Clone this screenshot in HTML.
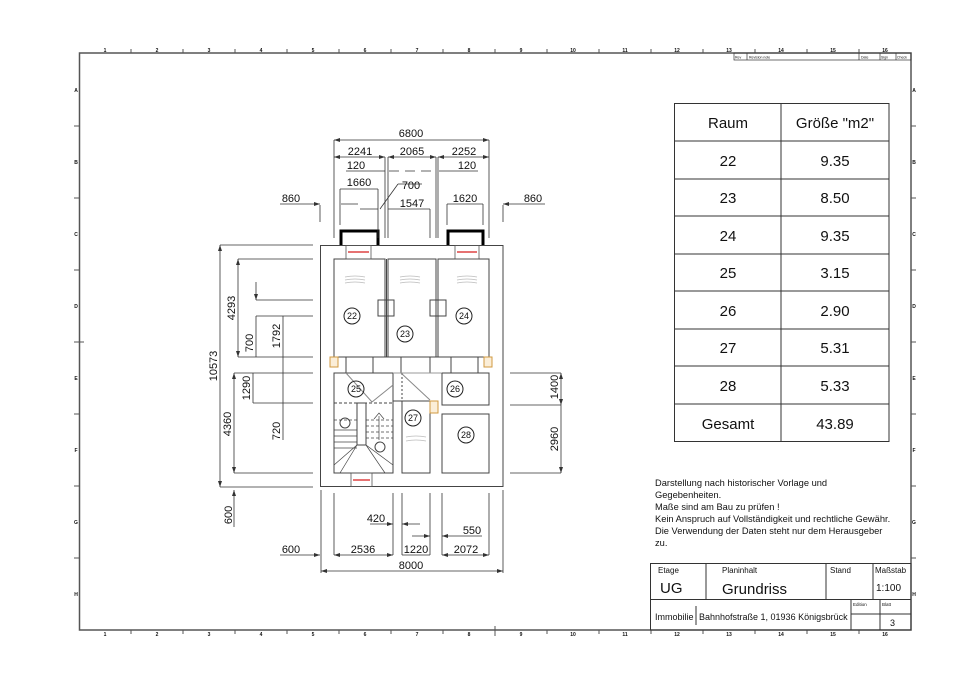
<!DOCTYPE html>
<html><head><meta charset="utf-8"><style>
html,body{margin:0;padding:0;background:#fff;width:960px;height:679px;overflow:hidden}
svg{display:block}
text{font-family:"Liberation Sans",sans-serif;fill:#111}
.d{font-size:11px}
.t{font-size:15px}
.s{font-family:"DejaVu Sans Condensed","DejaVu Sans",sans-serif}
</style></head><body>
<svg width="960" height="679" viewBox="0 0 960 679" xmlns="http://www.w3.org/2000/svg">
<!-- frame -->
<rect x="79.5" y="53" width="831.5" height="577" fill="none" stroke="#555" stroke-width="1.5"/>
<g stroke="#555" stroke-width="1">
<line x1="131" y1="49" x2="131" y2="53"/><line x1="183" y1="49" x2="183" y2="53"/><line x1="235" y1="49" x2="235" y2="53"/><line x1="287" y1="49" x2="287" y2="53"/><line x1="339" y1="49" x2="339" y2="53"/><line x1="391" y1="49" x2="391" y2="53"/><line x1="443" y1="49" x2="443" y2="53"/><line x1="495" y1="49" x2="495" y2="53"/><line x1="547" y1="49" x2="547" y2="53"/><line x1="599" y1="49" x2="599" y2="53"/><line x1="651" y1="49" x2="651" y2="53"/><line x1="703" y1="49" x2="703" y2="53"/><line x1="755" y1="49" x2="755" y2="53"/><line x1="807" y1="49" x2="807" y2="53"/><line x1="859" y1="49" x2="859" y2="53"/>
<line x1="131" y1="630" x2="131" y2="634"/><line x1="183" y1="630" x2="183" y2="634"/><line x1="235" y1="630" x2="235" y2="634"/><line x1="287" y1="630" x2="287" y2="634"/><line x1="339" y1="630" x2="339" y2="634"/><line x1="391" y1="630" x2="391" y2="634"/><line x1="443" y1="630" x2="443" y2="634"/><line x1="495" y1="626" x2="495" y2="636"/><line x1="547" y1="630" x2="547" y2="634"/><line x1="599" y1="630" x2="599" y2="634"/><line x1="651" y1="630" x2="651" y2="634"/><line x1="703" y1="630" x2="703" y2="634"/><line x1="755" y1="630" x2="755" y2="634"/><line x1="807" y1="630" x2="807" y2="634"/><line x1="859" y1="630" x2="859" y2="634"/>
<line x1="74" y1="126" x2="79" y2="126"/><line x1="74" y1="198" x2="79" y2="198"/><line x1="74" y1="270" x2="79" y2="270"/><line x1="74" y1="342" x2="84" y2="342"/><line x1="74" y1="414" x2="79" y2="414"/><line x1="74" y1="486" x2="79" y2="486"/><line x1="74" y1="558" x2="79" y2="558"/>
<line x1="911" y1="126" x2="916" y2="126"/><line x1="911" y1="198" x2="916" y2="198"/><line x1="911" y1="270" x2="916" y2="270"/><line x1="911" y1="342" x2="916" y2="342"/><line x1="911" y1="414" x2="916" y2="414"/><line x1="911" y1="486" x2="916" y2="486"/><line x1="911" y1="558" x2="916" y2="558"/>
</g>
<g font-size="5" text-anchor="middle" font-weight="bold">
<text x="105" y="52">1</text><text x="157" y="52">2</text><text x="209" y="52">3</text><text x="261" y="52">4</text><text x="313" y="52">5</text><text x="365" y="52">6</text><text x="417" y="52">7</text><text x="469" y="52">8</text><text x="521" y="52">9</text><text x="573" y="52">10</text><text x="625" y="52">11</text><text x="677" y="52">12</text><text x="729" y="52">13</text><text x="781" y="52">14</text><text x="833" y="52">15</text><text x="885" y="52">16</text>
<text x="105" y="636">1</text><text x="157" y="636">2</text><text x="209" y="636">3</text><text x="261" y="636">4</text><text x="313" y="636">5</text><text x="365" y="636">6</text><text x="417" y="636">7</text><text x="469" y="636">8</text><text x="521" y="636">9</text><text x="573" y="636">10</text><text x="625" y="636">11</text><text x="677" y="636">12</text><text x="729" y="636">13</text><text x="781" y="636">14</text><text x="833" y="636">15</text><text x="885" y="636">16</text>
<text x="76" y="92">A</text><text x="76" y="164">B</text><text x="76" y="236">C</text><text x="76" y="308">D</text><text x="76" y="380">E</text><text x="76" y="452">F</text><text x="76" y="524">G</text><text x="76" y="596">H</text>
<text x="914" y="92">A</text><text x="914" y="164">B</text><text x="914" y="236">C</text><text x="914" y="308">D</text><text x="914" y="380">E</text><text x="914" y="452">F</text><text x="914" y="524">G</text><text x="914" y="596">H</text>
</g>
<!-- top right strip -->
<g fill="none" stroke="#333" stroke-width="0.7"><rect x="734" y="53" width="177" height="7"/><line x1="747" y1="53" x2="747" y2="60"/><line x1="859" y1="53" x2="859" y2="60"/><line x1="880" y1="53" x2="880" y2="60"/><line x1="896" y1="53" x2="896" y2="60"/></g>
<g font-size="3.5"><text x="735" y="58.5">Rev</text><text x="749" y="58.5">Revision note</text><text x="861" y="58.5">Date</text><text x="881" y="58.5">Sign</text><text x="897" y="58.5">Check</text></g>

<!-- table -->
<g fill="none" stroke="#333" stroke-width="1">
<rect x="674.5" y="103.5" width="214.5" height="338"/>
<line x1="781" y1="103.5" x2="781" y2="441.5"/>
<line x1="674.5" y1="141" x2="889" y2="141"/><line x1="674.5" y1="179" x2="889" y2="179"/><line x1="674.5" y1="216" x2="889" y2="216"/><line x1="674.5" y1="254" x2="889" y2="254"/><line x1="674.5" y1="291" x2="889" y2="291"/><line x1="674.5" y1="329" x2="889" y2="329"/><line x1="674.5" y1="366" x2="889" y2="366"/><line x1="674.5" y1="404" x2="889" y2="404"/>
</g>
<g class="t" text-anchor="middle">
<text x="728" y="128">Raum</text><text x="835" y="128">Größe  "m2"</text>
<text x="728" y="166">22</text><text x="835" y="166">9.35</text>
<text x="728" y="203">23</text><text x="835" y="203">8.50</text>
<text x="728" y="241">24</text><text x="835" y="241">9.35</text>
<text x="728" y="278">25</text><text x="835" y="278">3.15</text>
<text x="728" y="316">26</text><text x="835" y="316">2.90</text>
<text x="728" y="353">27</text><text x="835" y="353">5.31</text>
<text x="728" y="391">28</text><text x="835" y="391">5.33</text>
<text x="728" y="429">Gesamt</text><text x="835" y="429">43.89</text>
</g>
<!-- note -->
<g font-size="9.3">
<text x="655" y="486">Darstellung nach historischer Vorlage und</text>
<text x="655" y="498">Gegebenheiten.</text>
<text x="655" y="510">Maße sind am Bau zu prüfen !</text>
<text x="655" y="522">Kein Anspruch auf Vollständigkeit und rechtliche Gewähr.</text>
<text x="655" y="534">Die Verwendung der Daten steht nur dem Herausgeber</text>
<text x="655" y="546">zu.</text>
</g>
<!-- title block -->
<g fill="none" stroke="#333" stroke-width="1">
<rect x="650.5" y="563.5" width="260.5" height="66.5"/>
<line x1="650.5" y1="599.5" x2="911" y2="599.5"/>
<line x1="706" y1="563.5" x2="706" y2="599.5"/><line x1="826" y1="563.5" x2="826" y2="599.5"/><line x1="873" y1="563.5" x2="873" y2="599.5"/>
<line x1="851" y1="599.5" x2="851" y2="630"/><line x1="880" y1="599.5" x2="880" y2="630"/><line x1="851" y1="614" x2="911" y2="614"/>
<line x1="696" y1="606" x2="696" y2="625"/>
</g>
<g class="s">
<text x="658" y="573" font-size="8">Etage</text>
<text x="660" y="593" font-size="15" font-weight="300">UG</text>
<text x="722" y="573" font-size="8">Planinhalt</text>
<text x="722" y="594" font-size="15">Grundriss</text>
<text x="830" y="573" font-size="8">Stand</text>
<text x="875" y="573" font-size="8">Maßstab</text>
<text x="876" y="591" font-size="10">1:100</text>
<text x="853" y="606" font-size="4.5">Edition</text>
<text x="882" y="606" font-size="4.5">Blatt</text>
<text x="890" y="626" font-size="9">3</text>
<text x="655" y="620" font-size="9">Immobilie</text>
<text x="699" y="620" font-size="9">Bahnhofstraße 1, 01936 Königsbrück</text>
</g>

<!-- FLOOR PLAN -->
<g fill="none" stroke="#444" stroke-width="1">
<rect x="320.5" y="245.5" width="182.5" height="241"/>
<!-- upper rooms -->
<rect x="334" y="259" width="51" height="98"/>
<rect x="388" y="259" width="48" height="98"/>
<rect x="438" y="259" width="51" height="98"/>
<line x1="386.5" y1="259" x2="386.5" y2="357"/>
<!-- hallway blocks -->
<polyline points="334,357 346,357 346,373"/>
<rect x="373" y="357" width="28" height="16"/>
<rect x="430" y="357" width="21" height="16"/>
<polyline points="489,357 478,357 478,373"/>
<line x1="451" y1="357" x2="478" y2="357" stroke-dasharray="2,2"/>
<!-- lower rooms -->
<rect x="334" y="373" width="59" height="100"/>
<rect x="402" y="401" width="28" height="72"/>
<rect x="442" y="373" width="47" height="32"/>
<rect x="442" y="414" width="47" height="59"/>
<line x1="442" y1="405" x2="489" y2="405"/>
<line x1="393" y1="373" x2="442" y2="373" stroke="#999"/>
<line x1="393" y1="401" x2="402" y2="401"/>
<line x1="402" y1="373" x2="402" y2="401" stroke-dasharray="2,2"/>
<line x1="442" y1="373" x2="442" y2="405" stroke-dasharray="2,2"/>
<line x1="346" y1="373" x2="372" y2="402" stroke="#888"/>
<line x1="401" y1="373" x2="430" y2="400" stroke="#888"/>
<line x1="372" y1="402" x2="393" y2="385" stroke="#888"/>
<!-- stair -->
<rect x="357" y="403" width="9" height="42"/>
<line x1="334" y1="403" x2="393" y2="403" stroke-dasharray="3,2"/>
<g stroke-width="0.7">
<line x1="334" y1="420" x2="357" y2="420" stroke-dasharray="3,2"/><line x1="334" y1="430" x2="357" y2="430"/><line x1="334" y1="436" x2="357" y2="436"/><line x1="334" y1="442" x2="357" y2="442"/><line x1="334" y1="448" x2="357" y2="448"/>
<line x1="366" y1="420" x2="393" y2="420" stroke-dasharray="3,2"/><line x1="366" y1="426" x2="393" y2="426" stroke-dasharray="3,2"/><line x1="366" y1="432" x2="393" y2="432" stroke-dasharray="3,2"/><line x1="366" y1="438" x2="393" y2="438" stroke-dasharray="3,2"/>
<line x1="357" y1="445" x2="334" y2="465"/><line x1="366" y1="445" x2="393" y2="465"/><line x1="357" y1="445" x2="340" y2="473"/><line x1="366" y1="445" x2="385" y2="473"/>
<line x1="379" y1="416" x2="379" y2="440"/><polyline points="374,419 379,413 384,419"/>
</g>
<circle cx="345" cy="423" r="5"/><circle cx="380" cy="447" r="5"/>
<!-- flues -->
<rect x="378" y="300" width="16" height="16"/><rect x="430" y="300" width="16" height="16"/>
</g>
<!-- chimneys -->
<g fill="none" stroke="#000" stroke-width="3"><polyline points="341,245 341,231 378,231 378,245"/><polyline points="448,245 448,231 483,231 483,245"/></g>
<!-- windows -->
<g stroke="#555" stroke-width="0.8" fill="none"><rect x="346" y="245.5" width="25" height="13.5"/><rect x="455" y="245.5" width="24" height="13.5"/><rect x="351" y="473" width="21" height="13.5"/></g>
<g stroke="#d44" stroke-width="1.5"><line x1="348" y1="252" x2="369" y2="252"/><line x1="457" y1="252" x2="477" y2="252"/><line x1="353" y1="480" x2="370" y2="480"/></g>
<!-- orange boxes -->
<g fill="#fbeed8" stroke="#d09a40" stroke-width="1"><rect x="330" y="357" width="8" height="10"/><rect x="484" y="357" width="8" height="10"/><rect x="430" y="401" width="8" height="12"/></g>
<!-- radiators -->
<g stroke="#bbb" stroke-width="0.8" fill="none"><path d="M345 277q10-2 20 0M345 280q10-2 20 0M345 283q10-2 20 0M400 277q10-2 20 0M400 280q10-2 20 0M400 283q10-2 20 0M457 277q10-2 20 0M457 280q10-2 20 0M457 283q10-2 20 0M406 437q10-2 20 0M406 441q10-2 20 0"/></g>
<!-- room labels -->
<g fill="none" stroke="#222" stroke-width="1"><circle cx="352" cy="316" r="8"/><circle cx="405" cy="334" r="8"/><circle cx="464" cy="316" r="8"/><circle cx="356" cy="389" r="8"/><circle cx="455" cy="389" r="8"/><circle cx="413" cy="418" r="8"/><circle cx="466" cy="435" r="8"/></g>
<g font-size="9" text-anchor="middle"><text x="352" y="319">22</text><text x="405" y="337">23</text><text x="464" y="319">24</text><text x="356" y="392">25</text><text x="455" y="392">26</text><text x="413" y="421">27</text><text x="466" y="438">28</text></g>

<!-- dimensions -->
<g stroke="#333" stroke-width="0.8" fill="none">
<line x1="334" y1="140" x2="489" y2="140"/>
<line x1="334" y1="157" x2="385" y2="157"/><line x1="388" y1="157" x2="436" y2="157"/><line x1="438" y1="157" x2="489" y2="157"/>
<line x1="346" y1="171" x2="385" y2="171"/><line x1="389" y1="171" x2="435" y2="171" stroke-dasharray="10,6"/><line x1="439" y1="171" x2="478" y2="171"/>
<line x1="340" y1="189" x2="378" y2="189"/><line x1="341" y1="204" x2="358" y2="204"/><line x1="360" y1="209" x2="378" y2="209"/>
<line x1="388" y1="209" x2="430" y2="209"/><line x1="380" y1="209" x2="398" y2="184"/><line x1="398" y1="184" x2="422" y2="184"/>
<line x1="447" y1="204" x2="483" y2="204"/>
<line x1="280" y1="204" x2="320" y2="204"/><line x1="503" y1="204" x2="545" y2="204"/>
<line x1="320" y1="205" x2="320" y2="222"/><line x1="503" y1="205" x2="503" y2="222"/>
<line x1="334" y1="140" x2="334" y2="238"/><line x1="489" y1="140" x2="489" y2="238"/>
<line x1="385" y1="157" x2="385" y2="238"/><line x1="388" y1="157" x2="388" y2="238"/><line x1="436" y1="157" x2="436" y2="238"/><line x1="438" y1="157" x2="438" y2="238"/>
<line x1="378" y1="189" x2="378" y2="238"/><line x1="340" y1="189" x2="340" y2="225"/><line x1="430" y1="209" x2="430" y2="238"/><line x1="447" y1="204" x2="447" y2="225"/><line x1="483" y1="204" x2="483" y2="225"/>
<!-- left -->
<line x1="220" y1="245" x2="220" y2="487"/><line x1="220" y1="245" x2="313" y2="245"/><line x1="220" y1="487" x2="313" y2="487"/>
<line x1="238" y1="259" x2="238" y2="357"/><line x1="238" y1="259" x2="313" y2="259"/><line x1="238" y1="357" x2="313" y2="357"/>
<line x1="256" y1="282" x2="256" y2="300"/><line x1="256" y1="300" x2="313" y2="300"/>
<line x1="256" y1="316" x2="256" y2="357"/><line x1="256" y1="316" x2="313" y2="316"/>
<line x1="283" y1="316" x2="283" y2="440"/>
<line x1="234" y1="373" x2="234" y2="473"/><line x1="234" y1="373" x2="313" y2="373"/><line x1="234" y1="473" x2="313" y2="473"/>
<line x1="253" y1="373" x2="253" y2="403"/><line x1="253" y1="403" x2="313" y2="403"/>
<line x1="234" y1="490" x2="234" y2="527"/>
<!-- right -->
<line x1="510" y1="373" x2="561" y2="373"/><line x1="510" y1="405" x2="561" y2="405"/><line x1="510" y1="473" x2="561" y2="473"/>
<line x1="561" y1="373" x2="561" y2="473"/>
<!-- bottom -->
<line x1="321" y1="571" x2="503" y2="571"/><line x1="321" y1="490" x2="321" y2="573"/><line x1="503" y1="490" x2="503" y2="573"/>
<line x1="280" y1="555" x2="320" y2="555"/>
<line x1="334" y1="555" x2="393" y2="555"/><line x1="402" y1="555" x2="430" y2="555"/><line x1="442" y1="555" x2="489" y2="555"/>
<line x1="334" y1="493" x2="334" y2="555"/><line x1="393" y1="493" x2="393" y2="555"/><line x1="402" y1="493" x2="402" y2="555"/><line x1="430" y1="493" x2="430" y2="555"/><line x1="442" y1="493" x2="442" y2="555"/><line x1="489" y1="493" x2="489" y2="555"/>
<line x1="370" y1="524" x2="393" y2="524"/><line x1="402" y1="524" x2="420" y2="524"/><line x1="412" y1="536" x2="430" y2="536"/><line x1="442" y1="536" x2="482" y2="536"/>
</g>
<g fill="#333">
<path d="M334 140l6-2v4zM489 140l-6-2v4zM220 245l-2 6h4zM220 487l-2-6h4zM321 571l6-2v4zM503 571l-6-2v4zM561 373l-2 6h4zM561 473l-2-6h4zM561 405l-2-6h4zM238 259l-2 6h4zM238 357l-2-6h4zM234 373l-2 6h4zM234 473l-2-6h4zM320 204l-6-2v4zM503 204l6-2v4zM320 555l-6-2v4zM334 555l6-2v4zM393 555l-6-2v4zM489 555l-6-2v4zM442 555l6-2v4zM234 490l-2 6h4zM256 300l-2-6h4zM393 524l-6-2v4zM402 524l6-2v4zM430 536l-6-2v4zM442 536l6-2v4zM385 157l-6-2v4zM388 157l6-2v4zM436 157l-6-2v4zM438 157l6-2v4zM334 157l6-2v4zM489 157l-6-2v4z"/>
</g>
<g class="d" text-anchor="middle">
<text x="411" y="137">6800</text>
<text x="360" y="155">2241</text><text x="412" y="155">2065</text><text x="464" y="155">2252</text>
<text x="356" y="169">120</text><text x="467" y="169">120</text>
<text x="359" y="186">1660</text><text x="411" y="189">700</text><text x="412" y="207">1547</text><text x="465" y="202">1620</text>
<text x="291" y="202">860</text><text x="533" y="202">860</text>
<text x="411" y="569">8000</text><text x="291" y="553">600</text>
<text x="363" y="553">2536</text><text x="416" y="553">1220</text><text x="466" y="553">2072</text>
<text x="376" y="522">420</text><text x="472" y="534">550</text>
</g>
<g class="d" text-anchor="middle">
<text transform="translate(217,366) rotate(-90)">10573</text>
<text transform="translate(235,308) rotate(-90)">4293</text>
<text transform="translate(253,343) rotate(-90)">700</text>
<text transform="translate(280,336) rotate(-90)">1792</text>
<text transform="translate(250,388) rotate(-90)">1290</text>
<text transform="translate(231,424) rotate(-90)">4360</text>
<text transform="translate(280,431) rotate(-90)">720</text>
<text transform="translate(232,515) rotate(-90)">600</text>
<text transform="translate(558,387) rotate(-90)">1400</text>
<text transform="translate(558,439) rotate(-90)">2960</text>
</g>
</svg>
</body></html>
